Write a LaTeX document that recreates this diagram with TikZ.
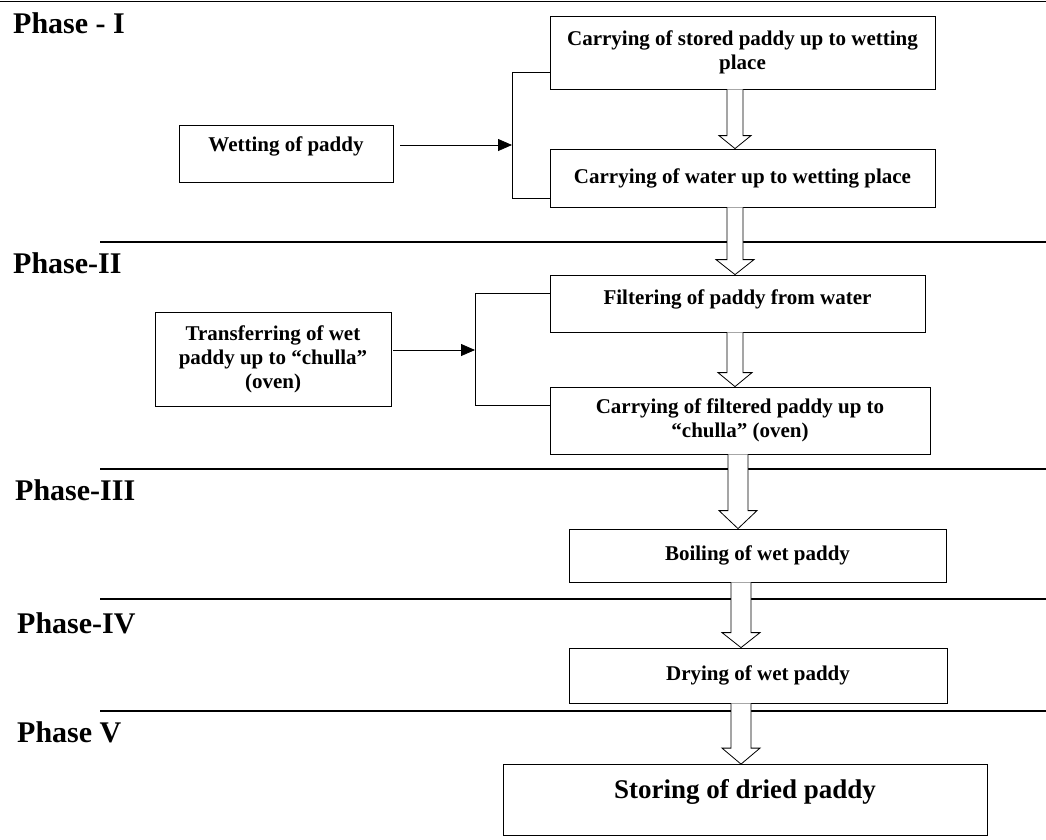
\documentclass[tikz,border=0pt]{standalone}
\usepackage{fontspec}
\setmainfont{Liberation Serif}
\usetikzlibrary{calc,arrows.meta}
\newcommand\holarrow[6]{%
  \draw[hollowarr] let \p1=(#1.south), \p2=(#2.north) in
   ({#3pt-#4pt},\y1) -- ({#3pt-#4pt},{\y2+#6pt}) -- ({#3pt-#5pt},{\y2+#6pt}) -- ({#3pt},\y2)
   -- ({#3pt+#5pt},{\y2+#6pt}) -- ({#3pt+#4pt},{\y2+#6pt}) -- ({#3pt+#4pt},\y1);
}
\begin{document}
\begin{tikzpicture}[x=1pt,y=-1pt,
  box/.style={draw, line width=0.8pt, inner sep=0pt, align=center,
    font=\fontsize{21}{24}\selectfont\bfseries},
  phase/.style={anchor=base west, inner sep=0pt, font=\fontsize{30}{34}\selectfont\bfseries},
  sepline/.style={line width=1.1pt},
  hollowarr/.style={draw, fill=white, line width=0.8pt, line join=miter},
  conn/.style={line width=0.8pt},
  arr/.style={conn, -{Triangle[length=14pt,width=12pt]}}]
\useasboundingbox (0,0) rectangle (1046,839);

% separator lines
\draw[sepline] (0,1.5) -- (1046,1.5);
\draw[sepline] (100,242) -- (1046,242);
\draw[sepline] (100,469) -- (1046,469);
\draw[sepline] (100,599) -- (1046,599);
\draw[sepline] (100,711) -- (1046,711);

% phase labels
\node[phase] (p1) at (13,33) {Phase - I};
\node[phase] (p2) at (13,273) {Phase-II};
\node[phase] (p3) at (15,500) {Phase-III};
\node[phase] (p4) at (17,633) {Phase-IV};
\node[phase] (p5) at (17,742) {Phase V};

% boxes
\node[box, minimum width=385, minimum height=73] (A) at (742.5,52.5)
  {Carrying of stored paddy up to wetting\\place};
\node[box, minimum width=385, minimum height=58] (B) at (742.5,178)
  {Carrying of water up to wetting place};
\node[box, minimum width=214, minimum height=57, text depth=18pt] (wet) at (286,153.5)
  {Wetting of paddy};
\node[box, minimum width=375, minimum height=57, text depth=12pt] (filt) at (737.5,303.5)
  {Filtering of paddy from water};
\node[box, minimum width=380, minimum height=67] (carf) at (740,420.5)
  {Carrying of filtered paddy up to\\``chulla'' (oven)};
\node[box, minimum width=236, minimum height=94] (trans) at (273,359)
  {Transferring of wet\\paddy up to ``chulla''\\(oven)};
\node[box, minimum width=377, minimum height=53] (boil) at (757.5,555.5)
  {Boiling of wet paddy};
\node[box, minimum width=378, minimum height=55] (dry) at (758,675.5)
  {Drying of wet paddy};
\node[box, minimum width=484, minimum height=71, text depth=22pt,
  font=\fontsize{27}{32}\selectfont\bfseries]
  (store) at (745,800) {Storing of dried paddy};

% phase I bracket
\coordinate (b1t) at (512,72);
\coordinate (b1b) at (512,198);
\coordinate (b1m) at (512,145);
\draw[conn] (A.west |- b1t) -- (b1t) -- (b1b) -- (B.west |- b1b);
\draw[arr] ([xshift=7pt,yshift=8.5pt]wet.east) -- (b1m);

% phase II bracket
\coordinate (b2t) at (475,293);
\coordinate (b2b) at (475,405);
\coordinate (b2m) at (475,350);
\draw[conn] (filt.west |- b2t) -- (b2t) -- (b2b) -- (carf.west |- b2b);
\draw[arr] ([xshift=2pt,yshift=9pt]trans.east) -- (b2m);

% hollow arrows
\holarrow{A}{B}{735}{8}{16}{13}
\holarrow{B}{filt}{735}{8}{19}{15}
\holarrow{filt}{carf}{735}{8}{17}{14}
\holarrow{carf}{boil}{738}{10}{19}{18}
\holarrow{boil}{dry}{741}{10}{19}{15}
\holarrow{dry}{store}{741}{10}{19}{16}
\end{tikzpicture}
\end{document}
